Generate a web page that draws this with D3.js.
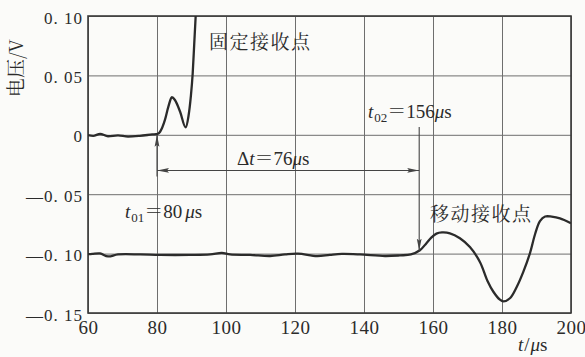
<!DOCTYPE html>
<html>
<head>
<meta charset="utf-8">
<script src="https://cdn.jsdelivr.net/npm/d3@7/dist/d3.min.js"></script>
<style>
  html, body { margin: 0; padding: 0; background: #fbfbf9; }
  svg { display: block; }
</style>
</head>
<body>
<svg id="chart" width="585" height="357"></svg>
<script>
// Axis ticks: time in microseconds, voltage in volts
const timeTicks = [60, 80, 100, 120, 140, 160, 180, 200];
const voltTicks = [0.10, 0.05, 0, -0.05, -0.10, -0.15];
const voltTickLabels = ["0. 10", "0. 05", "0", "—0. 05", "—0. 10", "—0. 15"];

// Fixed receiver trace (first arrival near 80 μs, then leaves the top of the frame)
const fixedT = [60, 61.5, 63.5, 65.8, 68.7, 71.6, 75, 78.6, 80.2, 80.9, 82.3, 83.3, 84.3, 85.2, 86.7, 88.3, 89.1, 89.8, 90.35, 90.8, 91.2, 91.7];
const fixedV = [-0.0003, -0.0009, 0.0008, -0.0012, -0.0005, -0.0015, -0.0009, 0.0003, 0.0008, 0.0026, 0.0125, 0.0237, 0.0316, 0.0293, 0.0194, 0.0063, 0.0152, 0.0321, 0.0518, 0.077, 0.0994, 0.13];

// Moving receiver trace (arrival near 156 μs)
const movingT = [60, 61.2, 63.5, 65.8, 68.7, 75.1, 80.9, 89.6, 95.4, 98.8, 101.2, 107, 112.8, 117.1, 120.9, 126.4, 130.1, 133.6, 138.8, 146.1, 150.4, 153.6,
                 156.2, 158.1, 159.5, 161.0, 162.6, 164.9, 167.8, 170.7, 173.6, 175.8, 177.5, 179.4, 180.4, 182.3, 184.3, 186.2, 188.1, 189.6, 191.0, 192.5, 194.4, 196.8, 199.7, 200];
const movingV = [-0.1005, -0.1003, -0.0999, -0.1024, -0.1007, -0.1007, -0.1011, -0.1011, -0.1007, -0.0994, -0.1007, -0.1011, -0.1020, -0.1007, -0.1001, -0.1022, -0.1011, -0.1003, -0.1007, -0.1020, -0.1015, -0.1007,
                 -0.0972, -0.0912, -0.0866, -0.0832, -0.0822, -0.0829, -0.0871, -0.0945, -0.1070, -0.1230, -0.1321, -0.1388, -0.1402, -0.1376, -0.1279, -0.1152, -0.0997, -0.0835, -0.0727, -0.0688, -0.0689, -0.0703, -0.0740, -0.0745];

// Arrival times
const t01 = 80, t02 = 156, deltaT = t02 - t01;

// Pick the first installed family from a list (compared against generic fallbacks)
function pickFont(names, generic) {
  const ctx = document.createElement("canvas").getContext("2d");
  const sample = "0123456789 ΔtμsVmwil 固定接收点电压";
  const width = f => { ctx.font = "40px " + f; return ctx.measureText(sample).width; };
  const mono = width("monospace"), sans = width("sans-serif");
  for (const n of names) {
    if (width(`"${n}", monospace`) !== mono || width(`"${n}", sans-serif`) !== sans) {
      return `"${n}", ${generic}`;
    }
  }
  return generic;
}
const serif = pickFont(["Liberation Serif", "Times New Roman", "DejaVu Serif", "Noto Serif"], "serif");
const cjk = pickFont(["Noto Serif CJK SC", "Noto Sans CJK SC", "Noto Sans CJK JP"], "sans-serif");
const ink = "#2b2b2b";

const svg = d3.select("#chart");
const plotL = 88, plotR = 571, plotT = 16, plotB = 313;
const x = d3.scaleLinear().domain([60, 200]).range([plotL, plotR]);
const y = d3.scaleLinear().domain([-0.15, 0.10]).range([plotB, plotT]);

// Arrowhead marker
const defs = svg.append("defs");
defs.append("marker")
  .attr("id", "head")
  .attr("viewBox", "0 0 12 6")
  .attr("refX", 12).attr("refY", 3)
  .attr("markerWidth", 12).attr("markerHeight", 6)
  .attr("markerUnits", "userSpaceOnUse")
  .attr("orient", "auto-start-reverse")
  .append("path").attr("d", "M0,0.6 L12,3 L0,5.4 L2,3 Z").attr("fill", "#444");

defs.append("clipPath").attr("id", "plot")
  .append("rect").attr("x", plotL).attr("y", plotT).attr("width", plotR - plotL).attr("height", plotB - plotT);

// Vertical grid + time labels
const xAxis = svg.append("g")
  .attr("transform", `translate(0,${plotB})`)
  .call(d3.axisBottom(x).tickValues(timeTicks).tickSize(-(plotB - plotT)).tickPadding(8).tickFormat(d3.format("d")));
xAxis.attr("font-family", null).attr("font-size", null);
xAxis.select(".domain").remove();
xAxis.selectAll(".tick line").attr("stroke", "#6e6e6e").attr("stroke-width", 1);
xAxis.selectAll(".tick text")
  .attr("fill", ink)
  .style("font-family", serif)
  .style("font-size", "19px").style("letter-spacing", "0.5px");

// Horizontal grid + voltage labels
const yAxis = svg.append("g")
  .attr("transform", `translate(${plotL},0)`)
  .call(d3.axisLeft(y).tickValues(voltTicks).tickSize(-(plotR - plotL)).tickPadding(5)
    .tickFormat((d, i) => voltTickLabels[i]));
yAxis.attr("font-family", null).attr("font-size", null);
yAxis.select(".domain").remove();
yAxis.selectAll(".tick line").attr("stroke", "#6e6e6e").attr("stroke-width", 1);
yAxis.selectAll(".tick text")
  .attr("fill", ink).attr("dy", "0.42em")
  .style("font-family", serif)
  .style("font-size", "17px").style("letter-spacing", "1px");

// Frame
svg.append("rect")
  .attr("x", plotL).attr("y", plotT).attr("width", plotR - plotL).attr("height", plotB - plotT)
  .attr("fill", "none").attr("stroke", "#3a3a3a").attr("stroke-width", 1.6);

// Traces
const plot = svg.append("g").attr("clip-path", "url(#plot)");
const fixedLine = d3.line().x(d => x(d[0])).y(d => y(d[1])).curve(d3.curveMonotoneX);
const movingLine = d3.line().x(d => x(d[0])).y(d => y(d[1])).curve(d3.curveCatmullRom.alpha(0.5));
plot.append("path")
  .datum(d3.zip(fixedT, fixedV))
  .attr("d", fixedLine).attr("fill", "none").attr("stroke", ink).attr("stroke-width", 2.3)
  .attr("stroke-linejoin", "round");
plot.append("path")
  .datum(d3.zip(movingT, movingV))
  .attr("d", movingLine).attr("fill", "none").attr("stroke", ink).attr("stroke-width", 2.3)
  .attr("stroke-linejoin", "round");

// Arrival markers
const arrow = svg.append("g").attr("stroke", "#444").attr("stroke-width", 1.1).attr("fill", "none");
// t01: points up at the fixed trace
arrow.append("line")
  .attr("x1", x(t01)).attr("y1", y(-0.035))
  .attr("x2", x(t01)).attr("y2", y(0.0))
  .attr("marker-end", "url(#head)");
// t02: points down at the moving trace
arrow.append("line")
  .attr("x1", x(t02)).attr("y1", y(0.0066))
  .attr("x2", x(t02)).attr("y2", y(-0.0975))
  .attr("marker-end", "url(#head)");
// Δt span between the two arrivals
arrow.append("line")
  .attr("x1", x(t01)).attr("y1", y(-0.030))
  .attr("x2", x(t02)).attr("y2", y(-0.030))
  .attr("marker-start", "url(#head)")
  .attr("marker-end", "url(#head)");

// Labels built from styled runs
function label(xp, yp, parts, size) {
  const t = svg.append("text").attr("x", xp).attr("y", yp).attr("fill", ink)
    .style("font-family", serif).style("font-size", size + "px");
  parts.forEach(p => {
    const s = t.append("tspan").text(p.s);
    if (p.italic) s.style("font-style", "italic");
    if (p.size) s.style("font-size", p.size + "px");
    if (p.dy) s.attr("dy", p.dy);
    if (p.dx) s.attr("dx", p.dx);
    if (p.cjk) s.style("font-family", cjk);
  });
  return t;
}

label(125, 218, [
  { s: "t", italic: true }, { s: "01", size: 13, dy: 4, dx: 1 },
  { s: "＝", dy: -4, cjk: true }, { s: "80" }, { s: "μ", italic: true, dx: 3 }, { s: "s" }
], 19);

label(368, 118, [
  { s: "t", italic: true }, { s: "02", size: 13, dy: 4, dx: 1 },
  { s: "＝", dy: -4, cjk: true }, { s: "156" }, { s: "μ", italic: true }, { s: "s" }
], 19);

label(237, 165, [
  { s: "Δ" }, { s: "t", italic: true }, { s: "＝", cjk: true }, { s: "76" }, { s: "μ", italic: true }, { s: "s" }
], 19);

label(518, 351, [
  { s: "t", italic: true }, { s: "/", dx: 1 }, { s: "μ", italic: true, dx: 1 }, { s: "s" }
], 19);

svg.append("text").attr("x", 209).attr("y", 49).attr("fill", ink)
  .style("font-family", cjk).style("font-size", "19px").style("letter-spacing", "1.5px").text("固定接收点");
svg.append("text").attr("x", 430).attr("y", 221).attr("fill", ink)
  .style("font-family", cjk).style("font-size", "19px").style("letter-spacing", "1.5px").text("移动接收点");

svg.append("text").attr("fill", ink)
  .attr("transform", "translate(23,68) rotate(-90)")
  .attr("text-anchor", "middle")
  .style("font-family", cjk).style("font-size", "19px")
  .text("电压/V");
</script>
</body>
</html>
